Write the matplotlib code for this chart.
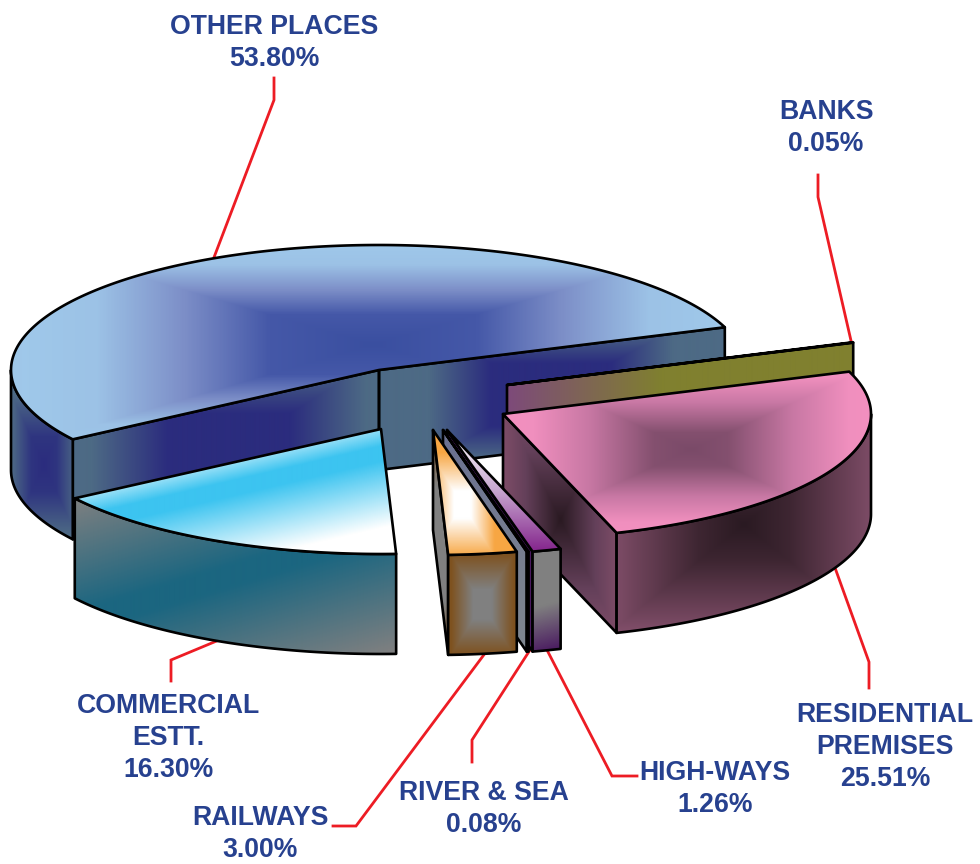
#!/usr/bin/env python3
import numpy as np
import matplotlib
matplotlib.use('Agg')
import matplotlib.pyplot as plt
from matplotlib.colors import LinearSegmentedColormap
from matplotlib.patches import PathPatch
from matplotlib.path import Path

plt.rcParams['font.family'] = ['Liberation Sans', 'DejaVu Sans']

# data
names = ['OTHER PLACES', 'COMMERCIAL\nESTT.', 'RAILWAYS', 'RIVER & SEA', 'HIGH-WAYS', 'RESIDENTIAL\nPREMISES', 'BANKS']
shares = [53.80, 16.30, 3.00, 0.08, 1.26, 25.51, 0.05]

# pie layout, in pixels of the picture
start_angle = 20
rx, ry, depth = 368, 125, 100
apex_x = [379, 381, 433, 443, 447, 503, 507]
apex_y = [370, 429, 430, 430, 430, 414, 385]
label_x = [274, 168, 260, 484, 715, 885, 826]
label_y = [43, 738, 834, 809, 789, 747, 128]
leaders = [
    [(274, 78), (274, 100), (213, 260)],
    [(219, 640), (171, 660), (171, 681)],
    [(486, 652), (356, 826), (333, 826)],
    [(530, 650), (472, 740), (472, 762)],
    [(547, 650), (612, 776), (637, 776)],
    [(834, 565), (869, 662), (869, 688)],
    [(818, 175), (818, 197), (852, 345)],
]

fig = plt.figure(figsize=(9.8, 8.64), dpi=100)
ax = fig.add_axes([0, 0, 1, 1])
ax.set_axis_off()


def rect(cx, cy, hx, hy, stops):
    cmap = LinearSegmentedColormap.from_list('g', stops)
    return cmap, lambda X, Y: np.maximum(np.abs(X - cx) / hx, np.abs(Y - cy) / hy)


def lin(x0, y0, x1, y1, stops):
    cmap = LinearSegmentedColormap.from_list('g', stops)
    dx, dy = x1 - x0, y1 - y0
    return cmap, lambda X, Y: ((X - x0) * dx + (Y - y0) * dy) / (dx * dx + dy * dy)


def face(pts, grad, z):
    pts = np.array(pts)
    path = Path(np.vstack([pts, pts[:1]]), closed=True)
    x0, y0 = np.floor(pts.min(axis=0))
    x1, y1 = np.ceil(pts.max(axis=0)) + 1
    X, Y = np.meshgrid(np.arange(x0, x1 + 1), np.arange(y0, y1 + 1))
    cmap, fn = grad
    im = ax.imshow(np.clip(fn(X, Y), 0, 1), cmap=cmap, vmin=0, vmax=1, extent=(x0 - .5, x1 + .5, y1 + .5, y0 - .5),
                   aspect='auto', interpolation='bilinear', zorder=z)
    edge = PathPatch(path, fc='none', ec='black', lw=1.9, joinstyle='round', zorder=z + 0.5)
    ax.add_patch(edge)
    im.set_clip_path(PathPatch(path, transform=ax.transData))


def arc(cx, cy, a0, a1):
    t = np.radians(np.linspace(a0, a1, max(int(abs(a1 - a0) * 2), 2)))
    return np.column_stack([cx + rx * np.cos(t), cy - ry * np.sin(t)])


SLATE = '#4d6a85'
NAVY = '#2b2c7e'
PLUM = '#7f4d68'
DARK = '#2a1a22'
BROWN = '#7e5220'
GREY = '#808080'

top_grads = [
    rect(372, 345, 345, 100, [(0, '#3a4fa0'), (0.3, '#4558a8'), (0.55, '#7d8fc8'), (0.8, '#9cc2e6'), (1, '#9fc8ea')]),
    lin(180, 455, 208, 575, [(0, '#ffffff'), (0.3, '#3cc4f0'), (0.42, '#3cc4f0'), (0.95, '#ffffff'), (1, '#ffffff')]),
    rect(462, 505, 34, 55, [(0, '#ffffff'), (0.25, '#ffffff'), (0.95, '#f7a643'), (1, '#f7a643')]),
    lin(0, 430, 0, 555, [(0, '#8088a8'), (1, '#ffffff')]),
    lin(0, 430, 0, 550, [(0, '#ffffff'), (0.5, '#c8a8d0'), (1, '#86288e')]),
    rect(690, 450, 185, 85, [(0, '#7a4a68'), (0.2, '#84506f'), (0.55, '#c878a4'), (0.85, '#f08fbe'), (1, '#f490c0')]),
    lin(507, 0, 850, 0, [(0, '#80802f'), (1, '#80802f')]),
]
cut_grads = [
    None,
    None,
    rect(440, 545, 18, 115, [(0, GREY), (0.5, GREY), (1, BROWN)]),
    lin(443, 430, 527, 650, [(0, '#6a7090'), (1, '#808890')]),
    lin(447, 430, 534, 650, [(0, '#4a1a60'), (1, '#4a1a60')]),
    rect(560, 520, 58, 115, [(0, DARK), (0.6, '#64405a'), (1, PLUM)]),
    lin(507, 0, 700, 0, [(0, '#7d4a7a'), (0.8, '#80802f'), (1, '#80802f')]),
]
side_grads = [
    rect(43, 465, 32, 70, [(0, NAVY), (0.4, '#2f3580'), (1, SLATE)]),
    lin(75, 497, 145, 728, [(0, GREY), (0.46, '#1b6680'), (0.54, '#1b6680'), (1, GREY)]),
    rect(482, 605, 31, 50, [(0, GREY), (0.3, GREY), (1, BROWN)]),
    lin(527, 0, 532, 0, [(0, '#6a78b0'), (0.5, '#3a4a9c'), (1, '#2a1a50')]),
    lin(534, 560, 558, 650, [(0, GREY), (0.5, GREY), (1, '#4a1a60')]),
    rect(743, 525, 130, 105, [(0, DARK), (0.35, '#3e2632'), (1, PLUM)]),
    None,
]
# walls of the largest slice along its two cut edges
back_wall = rect(550, 395, 170, 90, [(0, NAVY), (0.35, NAVY), (0.72, SLATE), (1, SLATE)])
left_wall = rect(228, 452, 152, 95, [(0, NAVY), (0.4, '#2b2c7e'), (0.9, SLATE), (1, SLATE)])

# slices back to front
angles = start_angle + np.concatenate([[0], np.cumsum(shares)]) * 3.6
order = [0, 6, 5, 4, 3, 2, 1]
for n, i in enumerate(order):
    z = 2 + n * 3
    a0, a1 = angles[i], angles[i + 1]
    cx, cy = apex_x[i], apex_y[i]
    outer = arc(cx, cy, a0, a1)
    down = np.array([0, depth])
    tip = np.array([cx, cy])

    # radial wall at the start of the slice
    if np.cos(np.radians(a0)) > 0 and (i == 0 or cut_grads[i] is not None):
        p = outer[0]
        grad = back_wall if i == 0 else cut_grads[i]
        face([tip, p, p + down, tip + down], grad, z)
    # radial wall at the end of the slice
    if np.cos(np.radians(a1)) < 0 and i == 0:
        p = outer[-1]
        face([tip, p, p + down, tip + down], left_wall, z)
    # rim on the front half
    lo = max(a0, 180)
    hi = min(a1, 360)
    if hi > lo and side_grads[i] is not None:
        rim = arc(cx, cy, lo, hi)
        face(np.vstack([rim, (rim + down)[::-1]]), side_grads[i], z + 1)
    # top
    face(np.vstack([[tip], outer]), top_grads[i], z + 2)

for pts in leaders:
    xs, ys = zip(*pts)
    ax.plot(xs, ys, color='#ed1c24', lw=2.0, solid_joinstyle='miter', zorder=1)

for name, share, x, y in zip(names, shares, label_x, label_y):
    ax.text(x, y, f'{name}\n{share:.2f}%', ha='center', va='center', fontsize=19.2, fontweight='bold',
            color='#27418f', linespacing=1.32, zorder=40)

ax.set_xlim(0, 980)
ax.set_ylim(864, 0)
fig.savefig('out.png', dpi=100)
